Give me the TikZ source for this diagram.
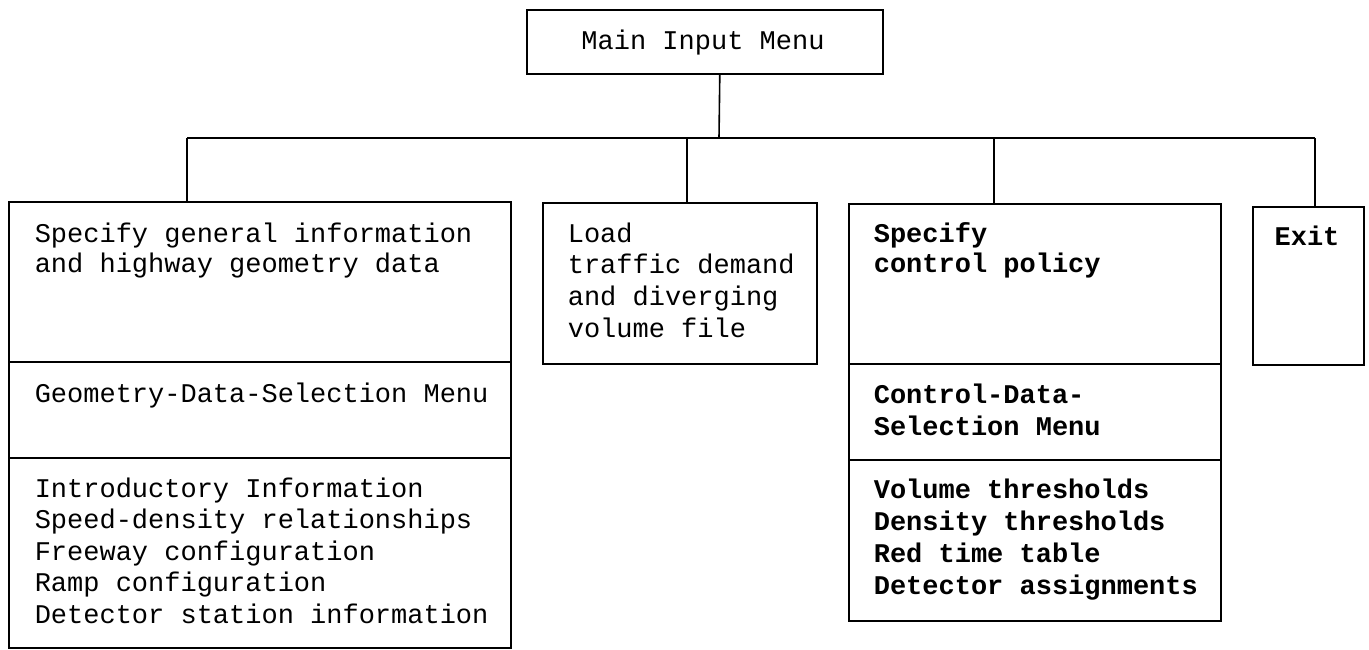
\documentclass[tikz,border=0pt]{standalone}
\usepackage{fontspec}
\setmonofont{Liberation Mono}
\begin{document}
\begin{tikzpicture}[x=1pt,y=-1pt,line width=1.6pt,
  box/.style={draw,rectangle,inner sep=0pt,anchor=north west},
  txt/.style={anchor=base west,inner sep=0pt,font=\ttfamily\fontsize{27}{31}\selectfont},
  btxt/.style={anchor=base west,inner sep=0pt,font=\ttfamily\bfseries\fontsize{27}{31}\selectfont}]
\useasboundingbox (0,0) rectangle (1369,649);
% boxes
\node[box,minimum width=356pt,minimum height=64pt] (main) at (526,9) {};
\node[box,minimum width=502pt,minimum height=446pt] (left) at (8,201) {};
\node[box,minimum width=274pt,minimum height=161pt] (load) at (542,202) {};
\node[box,minimum width=372pt,minimum height=417pt] (ctrl) at (848,203) {};
\node[box,minimum width=111pt,minimum height=158pt] (exit) at (1252,206) {};
% dividers
\draw ([yshift=-161pt]left.north west) -- ([yshift=-161pt]left.north east);
\draw ([yshift=-257pt]left.north west) -- ([yshift=-257pt]left.north east);
\draw ([yshift=-161pt]ctrl.north west) -- ([yshift=-161pt]ctrl.north east);
\draw ([yshift=-257pt]ctrl.north west) -- ([yshift=-257pt]ctrl.north east);
% connectors
\coordinate (top) at (719,138);
\coordinate (b1) at (187,138);
\coordinate (b2) at (687,138);
\coordinate (b3) at (994,138);
\coordinate (b4) at (1315,138);
\draw ([xshift=15pt]main.south) -- (top);
\draw (b1) -- (b4);
\draw (b1) -- (left.north -| b1);
\draw (b2) -- (load.north -| b2);
\draw (b3) -- (ctrl.north -| b3);
\draw (b4) -- (exit.north -| b4);
% texts
\node[txt,anchor=base] (tmain) at (703,49) {Main Input Menu};
\node[txt] (l1) at (34,242) {Specify general information};
\node[txt] (l2) at (34,272) {and highway geometry data};
\node[txt] (l3) at (34,402) {Geometry-Data-Selection Menu};
\node[txt] (l4) at (34,497) {Introductory Information};
\node[txt] (l5) at (34,528.5) {Speed-density relationships};
\node[txt] (l6) at (34,560) {Freeway configuration};
\node[txt] (l7) at (34,591.5) {Ramp configuration};
\node[txt] (l8) at (34,623) {Detector station information};
\node[txt] (d1) at (567,242) {Load};
\node[txt] (d2) at (567,273) {traffic demand};
\node[txt] (d3) at (567,305) {and diverging};
\node[txt] (d4) at (567,337) {volume file};
\node[btxt] (c1) at (873,242) {Specify};
\node[btxt] (c2) at (873,272) {control policy};
\node[btxt] (c3) at (873,403) {Control-Data-};
\node[btxt] (c4) at (873,435) {Selection Menu};
\node[btxt] (c5) at (873,498) {Volume thresholds};
\node[btxt] (c6) at (873,530) {Density thresholds};
\node[btxt] (c7) at (873,562) {Red time table};
\node[btxt] (c8) at (873,594) {Detector assignments};
\node[btxt,anchor=base] (ex) at (1307,245) {Exit};
\end{tikzpicture}
\end{document}
